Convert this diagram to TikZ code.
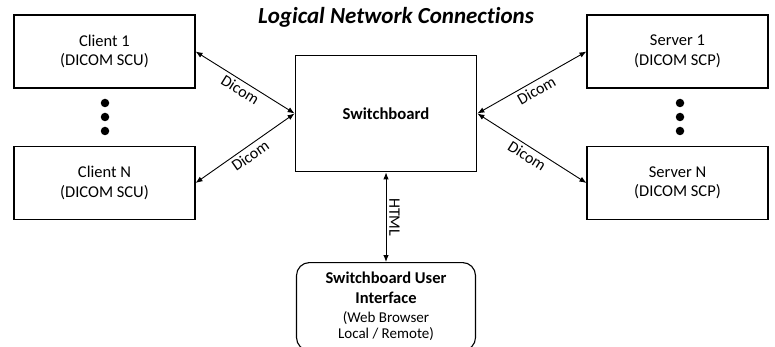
\documentclass[tikz,border=0pt]{standalone}
\usepackage{fontspec}
\setmainfont{Carlito}[Ligatures={NoCommon}]
\usetikzlibrary{arrows.meta}
\tikzset{
  box/.style={draw, line width=1.1pt, minimum width=181pt, minimum height=73pt, align=center, font=\fontsize{16.5}{19.5}\selectfont, inner sep=0pt},
  hub/.style={draw, line width=1.8pt, minimum width=181pt, minimum height=116pt, font=\fontsize{16.7}{20}\selectfont\bfseries, inner sep=0pt},
  uibox/.style={draw, line width=1.1pt, rounded corners=13pt, minimum width=179pt, minimum height=88pt, align=center, inner sep=0pt, font=\fontsize{16.5}{19}\selectfont},
  link/.style={line width=0.9pt, {Latex[length=7pt,width=5.5pt]}-{Latex[length=7pt,width=5.5pt]}},
  lbl/.style={font=\fontsize{16}{19}\selectfont, sloped, midway, inner sep=3pt},
  dot/.style={fill, circle, inner sep=0pt, minimum size=8.5pt},
}
\begin{document}
\begin{tikzpicture}[x=1pt, y=-1pt]
\useasboundingbox (0,0) rectangle (775,347);
\clip (0,0) rectangle (775,347);
\node[font=\fontsize{23}{27}\selectfont\bfseries\itshape] (title) at (396,17) {Logical Network Connections};
\node[box] (c1) at (104.5,51.5) {Client 1\\(DICOM SCU)};
\node[box] (cn) at (104.5,183) {Client N\\(DICOM SCU)};
\node[box] (s1) at (677.5,51.5) {Server 1\\(DICOM SCP)};
\node[box] (sn) at (677.5,183) {Server N\\(DICOM SCP)};
\node[hub] (sb) at (386,113.5) {Switchboard};
\node[uibox, anchor=north] (ui) at (386,262) {\textbf{Switchboard User}\\[1pt]\textbf{Interface}\\{\fontsize{15}{19}\selectfont (Web Browser}\\[-3pt]{\fontsize{15}{19}\selectfont Local / Remote)}};
\node[dot] (d1) at (105,103) {};
\node[dot] (d2) at (105,117) {};
\node[dot] (d3) at (105,131) {};
\node[dot] (e1) at (680,103) {};
\node[dot] (e2) at (680,117) {};
\node[dot] (e3) at (680,131) {};
\draw[link] (c1.east) -- node[lbl, below] {Dicom} (sb.west);
\draw[link] (cn.east) -- node[lbl, below] {Dicom} (sb.west);
\draw[link] (sb.east) -- node[lbl, below] {Dicom} (s1.west);
\draw[link] (sb.east) -- node[lbl, below] {Dicom} (sn.west);
\draw[link] (sb.south) -- node[lbl, above] {HTML} (ui.north);
\end{tikzpicture}
\end{document}
